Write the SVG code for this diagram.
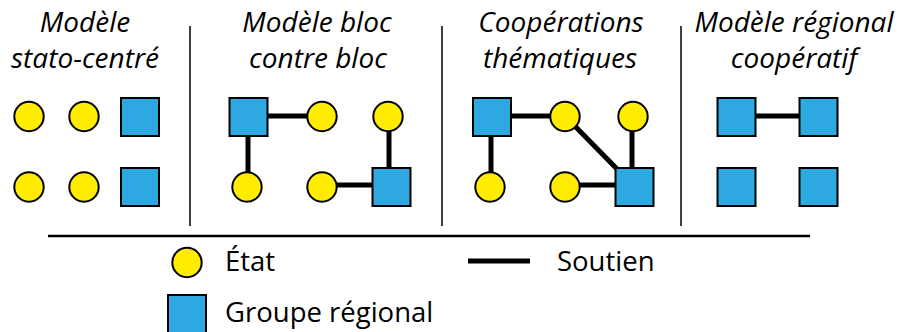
<svg xmlns="http://www.w3.org/2000/svg" width="898" height="332" viewBox="0 0 898 332">
<style>
.st{fill:#FFEC00;stroke:#000;stroke-width:2}
.gr{fill:#2EA8E0;stroke:#000;stroke-width:2}
.ln{stroke:#000;stroke-width:5;fill:none}
.dv{stroke:#000;stroke-width:1.5;fill:none}
.ttl{font-family:"Open Sans","DejaVu Sans",sans-serif;font-style:italic;font-size:28px;text-anchor:middle;fill:#000}
.lg{font-family:"Open Sans","DejaVu Sans",sans-serif;font-size:27.5px;fill:#000}
</style>
<rect width="898" height="332" fill="#fff"/>
<g id="titles">
<text class="ttl" x="85" y="32">Modèle</text>
<text class="ttl" x="85" y="68">stato-centré</text>
<text class="ttl" x="317" y="32">Modèle bloc</text>
<text class="ttl" x="318" y="68">contre bloc</text>
<text class="ttl" x="561" y="32">Coopérations</text>
<text class="ttl" x="560" y="68">thématiques</text>
<text class="ttl" x="794" y="32">Modèle régional</text>
<text class="ttl" x="794" y="68">coopératif</text>
</g>
<g id="dividers">
<line class="dv" x1="190" y1="26" x2="190" y2="226"/>
<line class="dv" x1="442" y1="26" x2="442" y2="226"/>
<line class="dv" x1="681" y1="26" x2="681" y2="226"/>
<line x1="48" y1="236" x2="810" y2="236" stroke="#000" stroke-width="2.5"/>
</g>
<g id="connectors">
<line class="ln" x1="249" y1="116" x2="322" y2="116"/>
<line class="ln" x1="248" y1="117" x2="248" y2="187"/>
<line class="ln" x1="389" y1="117" x2="389" y2="186"/>
<line class="ln" x1="322" y1="185" x2="391" y2="185"/>
<line class="ln" x1="492" y1="116" x2="565" y2="116"/>
<line class="ln" x1="491" y1="117" x2="491" y2="187"/>
<line class="ln" x1="565" y1="116" x2="618" y2="170"/>
<line class="ln" x1="632" y1="117" x2="632" y2="186"/>
<line class="ln" x1="565" y1="185" x2="634" y2="185"/>
<line class="ln" x1="737" y1="116" x2="818" y2="116"/>
</g>
<g id="panel1">
<circle id="p1c1" class="st" cx="29" cy="116.5" r="14.7"/>
<circle id="p1c2" class="st" cx="84" cy="116.5" r="14.7"/>
<rect id="p1s1" class="gr" x="121" y="98" width="38" height="38"/>
<circle id="p1c3" class="st" cx="29" cy="187" r="14.7"/>
<circle id="p1c4" class="st" cx="84" cy="187" r="14.7"/>
<rect id="p1s2" class="gr" x="121" y="168" width="38" height="38"/>
</g>
<g id="panel2">
<rect id="p2s1" class="gr" x="229.5" y="98" width="38" height="38"/>
<circle id="p2c1" class="st" cx="322" cy="116.5" r="14.7"/>
<circle id="p2c2" class="st" cx="388" cy="116.5" r="14.7"/>
<circle id="p2c3" class="st" cx="247" cy="187" r="14.7"/>
<circle id="p2c4" class="st" cx="322" cy="187" r="14.7"/>
<rect id="p2s2" class="gr" x="372.5" y="168" width="38" height="38"/>
</g>
<g id="panel3">
<rect id="p3s1" class="gr" x="473" y="98" width="38" height="38"/>
<circle id="p3c1" class="st" cx="565" cy="116.5" r="14.7"/>
<circle id="p3c2" class="st" cx="633" cy="116.5" r="14.7"/>
<circle id="p3c3" class="st" cx="490" cy="187" r="14.7"/>
<circle id="p3c4" class="st" cx="565" cy="187" r="14.7"/>
<rect id="p3s2" class="gr" x="615.5" y="168" width="38" height="38"/>
</g>
<g id="panel4">
<rect id="p4s1" class="gr" x="717.5" y="98" width="38" height="38"/>
<rect id="p4s2" class="gr" x="799.5" y="98" width="38" height="38"/>
<rect id="p4s3" class="gr" x="717.5" y="168" width="38" height="38"/>
<rect id="p4s4" class="gr" x="799.5" y="168" width="38" height="38"/>
</g>
<g id="legend">
<circle class="st" cx="187" cy="262.5" r="14.7"/>
<text class="lg" x="225" y="271">État</text>
<line class="ln" x1="468" y1="261" x2="530" y2="261"/>
<text class="lg" x="557" y="271">Soutien</text>
<rect class="gr" x="168" y="295" width="38" height="40"/>
<text class="lg" x="225" y="322">Groupe régional</text>
</g>
</svg>
